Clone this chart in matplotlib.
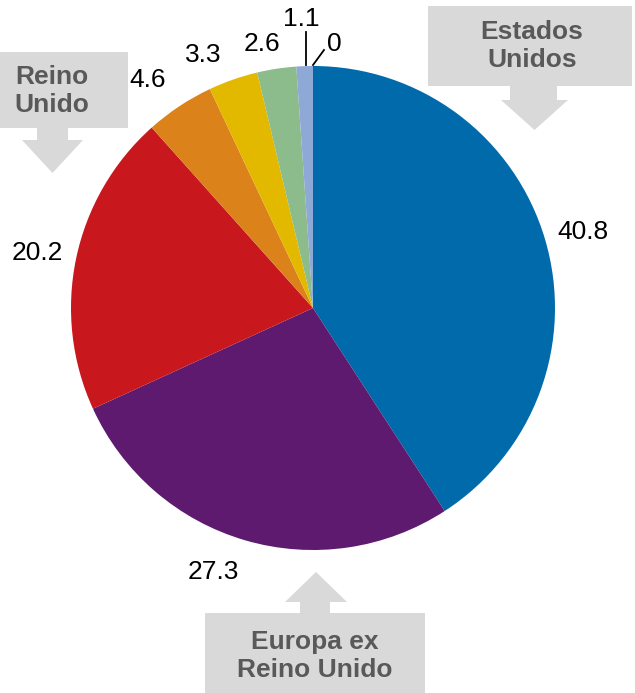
import numpy as np
import matplotlib.pyplot as plt
from matplotlib.patches import Rectangle, Polygon

plt.rcParams['font.family'] = ['Liberation Sans', 'DejaVu Sans']

# datos
valores = [40.8, 27.3, 20.2, 4.6, 3.3, 2.6, 1.1, 0.0]
etiquetas = ['40.8', '27.3', '20.2', '4.6', '3.3', '2.6', '1.1', '0']
colores = ['#006AAB', '#5D1A6F', '#C8181E', '#DC821A', '#E3B900', '#8CBB8C', '#8EA9D6', '#8EA9D6']

W, H = 635, 693
fig = plt.figure(figsize=(W / 100, H / 100), dpi=100)
ax = fig.add_axes([0, 0, 1, 1])

cx, cy, r = 313, 385, 242
wedges, textos = ax.pie(valores, labels=etiquetas, colors=colores, startangle=90,
                        counterclock=False, center=(cx, cy), radius=r,
                        labeldistance=1.16, textprops={'fontsize': 19, 'color': 'black'},
                        frame=True)
ax.set_xlim(0, W)
ax.set_ylim(0, H)
ax.set_aspect('equal')
ax.axis('off')

# posicion de cada etiqueta: distancia (en radios) y desfase de angulo
dist = [1.157, 1.165, 1.16, 1.165, 1.14, 1.11]
desfase = [-0.8, -4.5, 0.5, 2.5, 4.2, 2.3]
for i in range(6):
    w = wedges[i]
    ang = np.deg2rad((w.theta1 + w.theta2) / 2 + desfase[i])
    textos[i].set_position((cx + dist[i] * r * np.cos(ang), cy + dist[i] * r * np.sin(ang)))
    textos[i].set_ha('center')
    textos[i].set_va('center')

# etiquetas pequeñas con lineas guia
for i in [6, 7]:
    w = wedges[i]
    ang = np.deg2rad((w.theta1 + w.theta2) / 2)
    textos[i].set_visible(False)
    x0 = cx + r * np.cos(ang)
    y0 = cy + r * np.sin(ang)
    if i == 6:
        ax.plot([306, 306], [y0 + 1, 661], color='black', lw=1.3)
        ax.text(301, H - 19, etiquetas[i], fontsize=19, ha='center', va='center')
    else:
        ax.plot([x0, 324], [y0 + 1, 643], color='black', lw=1.3)
        ax.text(334, H - 44, etiquetas[i], fontsize=19, ha='center', va='center')

gris = '#D9D9D9'
texto_gris = '#595959'

def flecha_abajo(x1, x2, y_top, y_bot, sx1, sx2, hx1, hx2, y_shaft, y_tip, txt, tx, ty):
    ax.add_patch(Rectangle((x1, H - y_bot), x2 - x1, y_bot - y_top, color=gris, lw=0))
    ax.add_patch(Polygon([(sx1, H - y_bot), (sx2, H - y_bot), (sx2, H - y_shaft),
                          (hx2, H - y_shaft), ((hx1 + hx2) / 2, H - y_tip),
                          (hx1, H - y_shaft), (sx1, H - y_shaft)], closed=True, color=gris, lw=0))
    ax.text(tx, H - ty, txt, fontsize=19, fontweight='bold', color=texto_gris,
            ha='center', va='center', linespacing=1.2)

flecha_abajo(428, 632, 6, 86, 510, 557, 501, 568, 100, 130, 'Estados\nUnidos', 532, 46)
flecha_abajo(0, 128, 52, 128, 37, 68, 22, 83, 140, 173, 'Reino\nUnido', 52, 91)

# flecha hacia arriba
ax.add_patch(Rectangle((205, 0), 220, H - 613, color=gris, lw=0))
ax.add_patch(Polygon([(300, H - 613), (330, H - 613), (330, H - 602), (347, H - 602),
                      (316, H - 572), (285, H - 602), (300, H - 602)], closed=True, color=gris, lw=0))
ax.text(315, H - 656, 'Europa ex\nReino Unido', fontsize=19, fontweight='bold',
        color=texto_gris, ha='center', va='center', linespacing=1.2)

fig.savefig('out.png', dpi=100)
